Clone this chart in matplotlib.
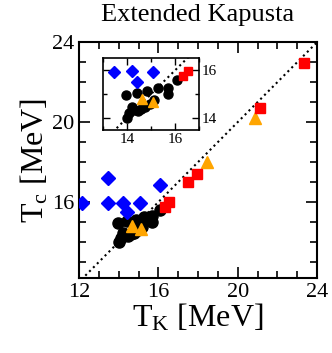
import matplotlib
matplotlib.use("Agg")
import matplotlib.pyplot as plt
from matplotlib.ticker import MultipleLocator

# data (T_K, T_c) in MeV
black_tk = [13.95, 14.40, 14.85, 15.30, 15.70, 15.70, 16.10, 14.20, 14.10, 14.00, 14.45, 14.75, 14.60, 14.30, 14.95, 15.15]
black_tc = [14.95, 15.05, 15.12, 15.25, 15.28, 15.00, 15.58, 14.45, 14.22, 14.00, 14.30, 14.45, 14.38, 14.35, 14.60, 14.75]
blue_tk = [12.15, 13.45, 14.20, 14.40, 15.07, 16.08, 13.46]
blue_tc = [15.94, 17.19, 15.97, 15.52, 15.94, 16.84, 15.95]
red_tk = [23.35, 21.13, 17.95, 17.50, 16.55, 16.32]
red_tc = [22.94, 20.69, 17.40, 16.99, 15.98, 15.75]
orange_tk = [20.88, 18.45, 14.65, 15.10]
orange_tc = [20.19, 17.99, 14.82, 14.66]
diag = [0, 30]

plt.rcParams['font.family'] = 'Liberation Serif'
plt.rcParams['mathtext.fontset'] = 'custom'
plt.rcParams['mathtext.rm'] = 'Liberation Serif'
plt.rcParams['mathtext.it'] = 'Liberation Serif:italic'


def draw_points(ax, ms):
    ax.plot(diag, diag, ls=':', color='black', lw=1.5, zorder=1)
    ax.plot(black_tk, black_tc, 'o', color='black', ms=ms, mec='black', zorder=2)
    ax.plot(blue_tk, blue_tc, 'D', color='#0000ff', ms=ms * 0.95, mec='#0000ff', zorder=3)
    ax.plot(orange_tk, orange_tc, '^', color='#ffa500', ms=ms, mec='#ffa500', zorder=3)
    ax.plot(red_tk, red_tc, 's', color='#ff0000', ms=ms * 0.95, mec='#ff0000', zorder=3)


fig = plt.figure(figsize=(3.32, 3.53), dpi=100)

# main panel
ax = fig.add_axes([0.238, 0.2125, 0.717, 0.668])
draw_points(ax, 8)
ax.set_xlim(12, 24)
ax.set_ylim(12.2, 24)
ax.xaxis.set_major_locator(MultipleLocator(4))
ax.xaxis.set_minor_locator(MultipleLocator(1))
ax.yaxis.set_major_locator(MultipleLocator(4))
ax.yaxis.set_minor_locator(MultipleLocator(1))
ax.tick_params(which='both', direction='in', top=True, right=True, width=1.2, labelsize=16)
ax.tick_params(which='major', length=8)
ax.tick_params(which='minor', length=5)
for sp in ax.spines.values():
    sp.set_linewidth(1.5)
ax.set_xlabel(r'T$_\mathrm{K}$ [MeV]', fontsize=23, labelpad=0)
ax.set_ylabel(r'T$_\mathrm{c}$ [MeV]', fontsize=23, labelpad=1)
fig.text(198 / 332, 1 - 15 / 353, 'Extended Kapusta', ha='center', va='center', fontsize=19)

# inset zoom on the cluster
axin = fig.add_axes([0.310, 0.632, 0.289, 0.204])
draw_points(axin, 6.5)
axin.set_xlim(13, 17)
axin.set_ylim(13.5, 16.53)
axin.xaxis.set_major_locator(MultipleLocator(2))
axin.xaxis.set_minor_locator(MultipleLocator(1))
axin.yaxis.set_major_locator(MultipleLocator(2))
axin.yaxis.set_minor_locator(MultipleLocator(1))
axin.tick_params(which='both', direction='in', top=True, right=True, width=1,
                 labelsize=11, labelleft=False, labelright=True, pad=2)
axin.tick_params(which='major', length=5)
axin.tick_params(which='minor', length=3)
for sp in axin.spines.values():
    sp.set_linewidth(1.2)

fig.savefig('out.png', dpi=100)
